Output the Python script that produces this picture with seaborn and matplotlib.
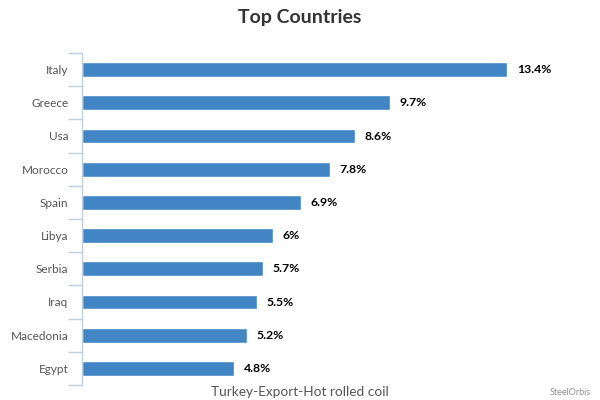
import numpy as np
import pandas as pd
import matplotlib
matplotlib.use('Agg')
import matplotlib.pyplot as plt
import seaborn as sns

countries = ['Italy', 'Greece', 'Usa', 'Morocco', 'Spain', 'Libya', 'Serbia', 'Iraq', 'Macedonia', 'Egypt']
shares = [13.4, 9.7, 8.6, 7.8, 6.9, 6.0, 5.7, 5.5, 5.2, 4.8]
value_labels = ['13.4%', '9.7%', '8.6%', '7.8%', '6.9%', '6%', '5.7%', '5.5%', '5.2%', '4.8%']

df = pd.DataFrame({'country': countries, 'share': shares})

sns.set_style('white')
plt.rcParams['font.family'] = ['Lato', 'DejaVu Sans']

fig = plt.figure(figsize=(6, 4), dpi=100)
ax = fig.add_axes([0.137, 0.0375, 0.846, 0.83])

sns.barplot(data=df, x='share', y='country', orient='h', color='#4285c4',
            saturation=1, width=0.45, ax=ax)

ax.set_xlim(0, 16)
ax.set_ylim(len(countries) - 0.5, -0.5)

# value labels at bar ends
for i, (v, lab) in enumerate(zip(shares, value_labels)):
    ax.text(v + 0.3, i, lab, va='center', ha='left', fontsize=8.8,
            fontweight='bold', color='#000000')

# axis styling: only left line, ticks between categories
for s in ['top', 'right', 'bottom']:
    ax.spines[s].set_visible(False)
ax.spines['left'].set_color('#c0d0e0')
ax.spines['left'].set_linewidth(1)
ax.set_xticks([])
ax.set_yticks(np.arange(len(countries)))
ax.set_yticklabels(countries)
ax.set_yticks(np.arange(-0.5, len(countries), 1), minor=True)
ax.tick_params(axis='y', which='major', left=False, length=0, pad=10,
               labelsize=8.5, labelcolor='#555555')
ax.tick_params(axis='y', which='minor', left=True, length=10, color='#c0d0e0',
               width=1, direction='out')
ax.set_ylabel('')
ax.set_xlabel('')

fig.text(0.5, 0.955, 'Top Countries', ha='center', va='center', fontsize=14,
         fontweight='bold', color='#333333')
fig.text(0.5, 0.02, 'Turkey-Export-Hot rolled coil', ha='center', va='center',
         fontsize=9.8, color='#555555')
fig.text(0.985, 0.018, 'SteelOrbis', ha='right', va='center', fontsize=6.5, color='#909090')

fig.savefig('out.png', dpi=100)
